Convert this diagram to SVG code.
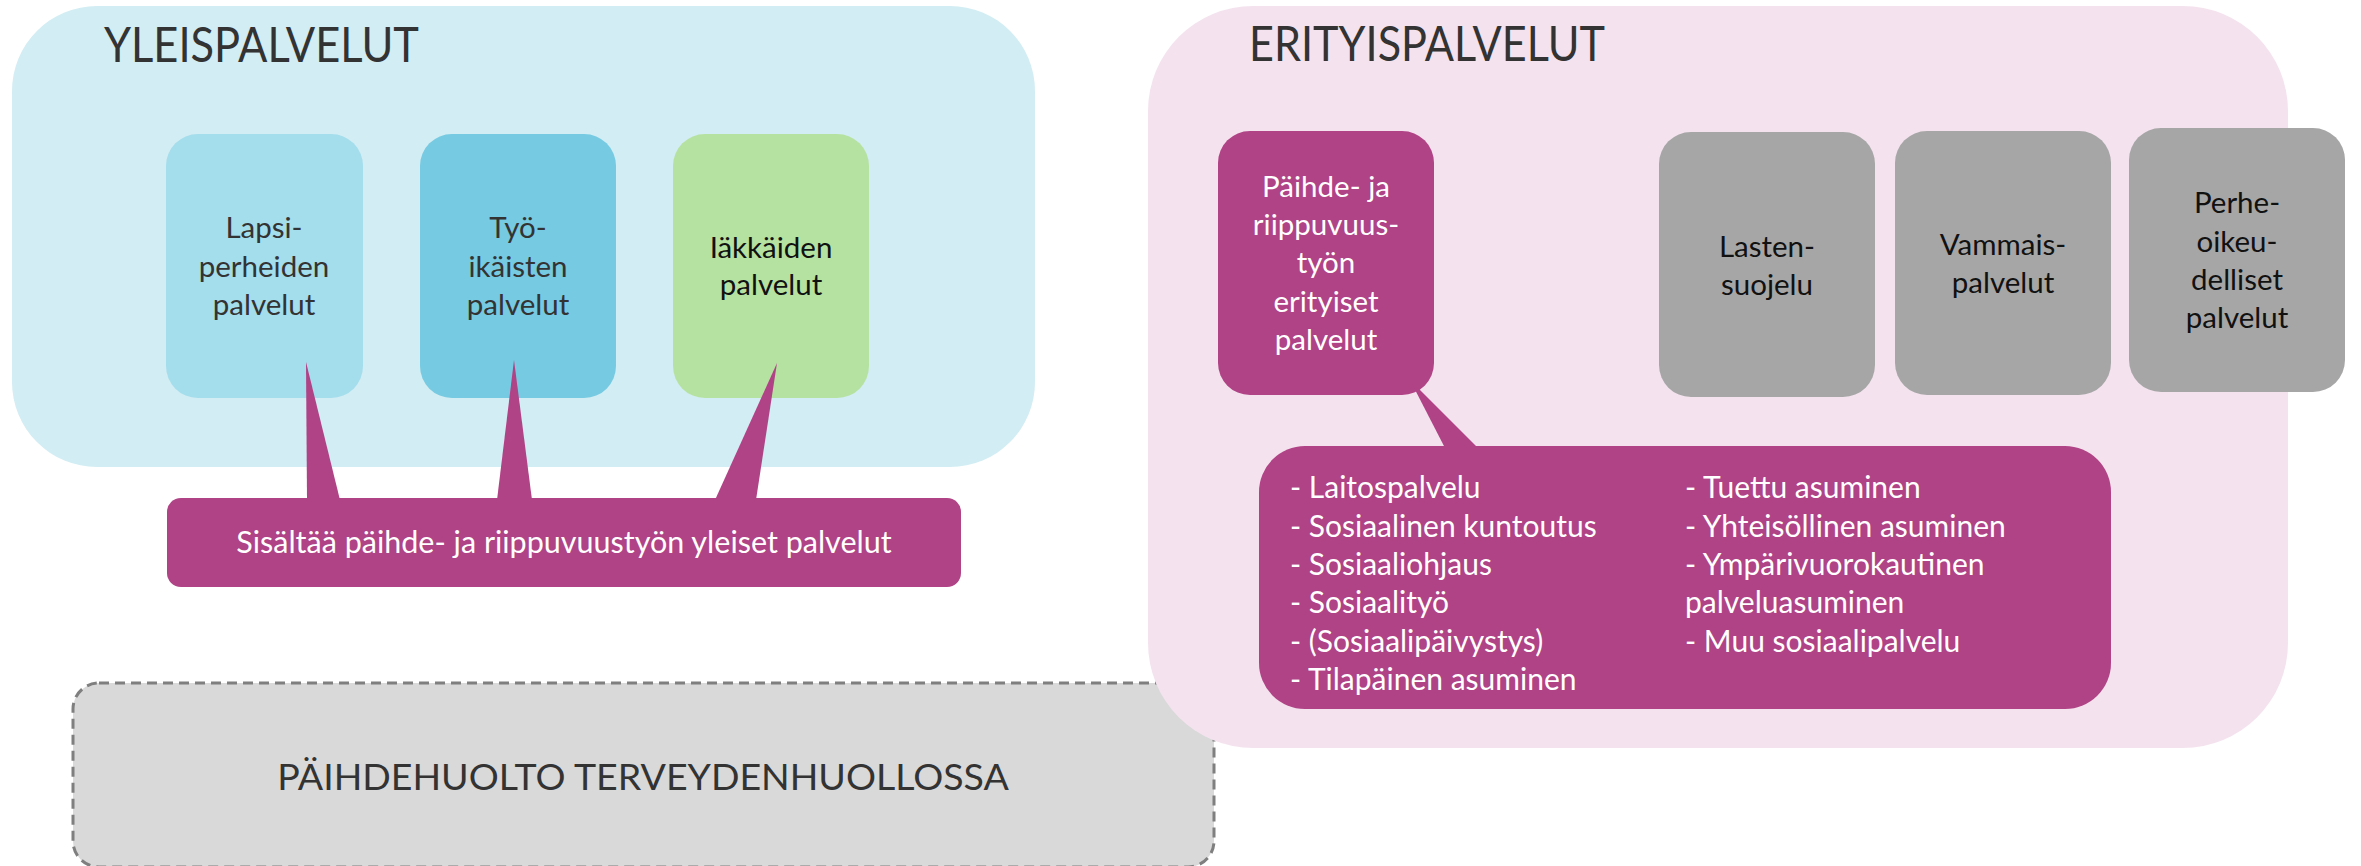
<svg xmlns="http://www.w3.org/2000/svg" width="2361" height="866" viewBox="0 0 2361 866">
<style>
text{font-family:Lato,"Open Sans","Liberation Sans",sans-serif}
.title{font-size:48px;fill:#333;font-weight:400}
.lbl{font-size:29.5px;text-anchor:middle}
.dark{fill:#333}
.blk{fill:#111}
.wht{fill:#fff}
.list{font-size:30px;fill:#fff}
.mag{fill:#b04286}
</style>
<g id="yleispalvelut">
<rect x="12" y="6" width="1023" height="461" rx="85" ry="85" fill="#d2edf3"/>
<text class="title" x="104" y="62" textLength="315" lengthAdjust="spacingAndGlyphs">YLEISPALVELUT</text>
</g>
<g id="paihdehuolto-terveydenhuollossa">
<rect x="73" y="683" width="1141" height="184" rx="26" ry="26" fill="#d9d9d9" stroke="#7f7f7f" stroke-width="3" stroke-dasharray="10 6"/>
<text x="643" y="790" font-size="37.5" text-anchor="middle" class="dark">PÄIHDEHUOLTO TERVEYDENHUOLLOSSA</text>
</g>
<g id="erityispalvelut">
<rect x="1148" y="6" width="1140" height="742" rx="105" ry="105" fill="#f4e3ee"/>
<text class="title" x="1249" y="61" textLength="356" lengthAdjust="spacingAndGlyphs">ERITYISPALVELUT</text>
</g>
<g id="lapsiperheiden">
<rect x="166" y="134" width="197" height="264" rx="32" ry="32" fill="#a4ddec"/>
<text class="lbl dark" x="264" y="238">Lapsi-</text>
<text class="lbl dark" x="264" y="277">perheiden</text>
<text class="lbl dark" x="264" y="315">palvelut</text>
</g>
<g id="tyoikaisten">
<rect x="420" y="134" width="196" height="264" rx="32" ry="32" fill="#76cae1"/>
<text class="lbl dark" x="518" y="238">Työ-</text>
<text class="lbl dark" x="518" y="277">ikäisten</text>
<text class="lbl dark" x="518" y="315">palvelut</text>
</g>
<g id="iakkaiden">
<rect x="673" y="134" width="196" height="264" rx="32" ry="32" fill="#b6e2a1"/>
<text class="lbl blk" x="771" y="258">Iäkkäiden</text>
<text class="lbl blk" x="771" y="295">palvelut</text>
</g>
<g id="paihde-erityiset">
<rect x="1218" y="131" width="216" height="264" rx="32" ry="32" class="mag"/>
<text class="lbl wht" x="1326" y="197">Päihde- ja</text>
<text class="lbl wht" x="1326" y="235">riippuvuus-</text>
<text class="lbl wht" x="1326" y="273">työn</text>
<text class="lbl wht" x="1326" y="312">erityiset</text>
<text class="lbl wht" x="1326" y="350">palvelut</text>
</g>
<g id="lastensuojelu">
<rect x="1659" y="132" width="216" height="265" rx="32" ry="32" fill="#a6a6a6"/>
<text class="lbl blk" x="1767" y="257">Lasten-</text>
<text class="lbl blk" x="1767" y="295">suojelu</text>
</g>
<g id="vammaispalvelut">
<rect x="1895" y="131" width="216" height="264" rx="32" ry="32" fill="#a6a6a6"/>
<text class="lbl blk" x="2003" y="255">Vammais-</text>
<text class="lbl blk" x="2003" y="293">palvelut</text>
</g>
<g id="perheoikeudelliset">
<rect x="2129" y="128" width="216" height="264" rx="32" ry="32" fill="#a6a6a6"/>
<text class="lbl blk" x="2237" y="213">Perhe-</text>
<text class="lbl blk" x="2237" y="252">oikeu-</text>
<text class="lbl blk" x="2237" y="290">delliset</text>
<text class="lbl blk" x="2237" y="328">palvelut</text>
</g>
<g id="connectors">
<polygon class="mag" points="306,362 307,500 340,500"/>
<polygon class="mag" points="514,360 497,500 532,500"/>
<polygon class="mag" points="777,363 715,500 756,500"/>
<polygon class="mag" points="1410,380 1445,448 1478,448"/>
</g>
<g id="yleiset-palvelut">
<rect x="167" y="498" width="794" height="89" rx="14" ry="14" class="mag"/>
<text x="564" y="553" font-size="30.5" text-anchor="middle" class="wht">Sisältää päihde- ja riippuvuustyön yleiset palvelut</text>
</g>
<g id="erityiset-lista">
<rect x="1259" y="446" width="852" height="263" rx="46" ry="46" class="mag"/>
<text class="list" x="1290" y="498">- Laitospalvelu</text>
<text class="list" x="1290" y="537">- Sosiaalinen kuntoutus</text>
<text class="list" x="1290" y="575">- Sosiaaliohjaus</text>
<text class="list" x="1290" y="613">- Sosiaalityö</text>
<text class="list" x="1290" y="652">- (Sosiaalipäivystys)</text>
<text class="list" x="1290" y="690">- Tilapäinen asuminen</text>
<text class="list" x="1685" y="498">- Tuettu asuminen</text>
<text class="list" x="1685" y="537">- Yhteisöllinen asuminen</text>
<text class="list" x="1685" y="575">- Ympärivuorokautinen</text>
<text class="list" x="1685" y="613">palveluasuminen</text>
<text class="list" x="1685" y="652">- Muu sosiaalipalvelu</text>
</g>
</svg>
